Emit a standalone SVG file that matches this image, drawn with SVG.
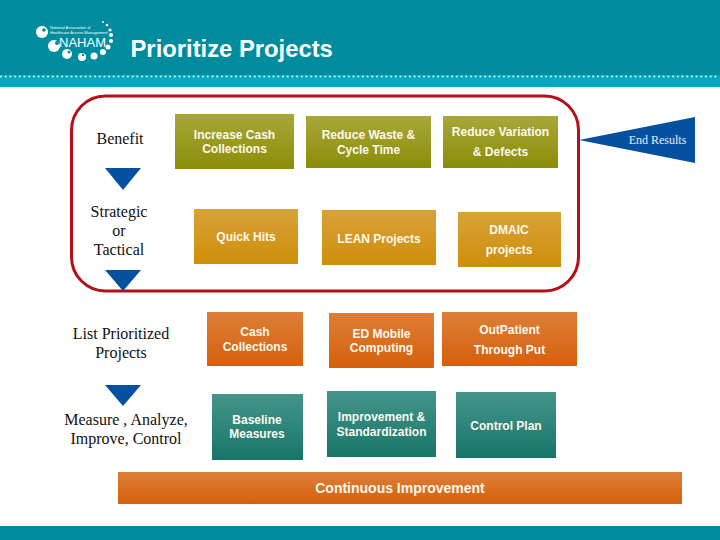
<svg xmlns="http://www.w3.org/2000/svg" width="720" height="540" viewBox="0 0 720 540">
<style>
.b{font:bold 12px "Liberation Sans",Arial,sans-serif;fill:#fdf8ec;text-anchor:middle}
.s{font:16px "Liberation Serif","Times New Roman",serif;fill:#111;text-anchor:middle}
.tri{fill:#05509f}
.logo{fill:#fff;font-family:"Liberation Sans",Arial,sans-serif}
</style>
<defs>
<linearGradient id="g" x1="0" y1="0" x2="0" y2="1"><stop offset="0" stop-color="#a8a83a"/><stop offset="1" stop-color="#8a8d08"/></linearGradient>
<linearGradient id="y" x1="0" y1="0" x2="0" y2="1"><stop offset="0" stop-color="#d8a238"/><stop offset="1" stop-color="#cf8f0c"/></linearGradient>
<linearGradient id="o" x1="0" y1="0" x2="0" y2="1"><stop offset="0" stop-color="#dd7f38"/><stop offset="1" stop-color="#d5600c"/></linearGradient>
<linearGradient id="t" x1="0" y1="0" x2="0" y2="1"><stop offset="0" stop-color="#44958a"/><stop offset="1" stop-color="#187568"/></linearGradient>
</defs>
<rect width="720" height="540" fill="#fff"/>
<g id="header">
<rect width="720" height="75" fill="#008c9f"/>
<rect y="75" width="720" height="12" fill="#00a9bf"/>
<line x1="1" y1="76.500" x2="720" y2="76.500" stroke="#d5f0f3" stroke-width="2.200" stroke-linecap="round" stroke-dasharray="0 4.700"/>
<text x="130.500" y="57" font-family="'Liberation Sans',Arial,sans-serif" font-weight="bold" font-size="23.800" fill="#fff">Prioritize Projects</text>
</g>
<g id="logo">
<circle cx="42" cy="32" r="6" fill="#fff"/><circle cx="44" cy="30" r="1.800" fill="#008c9f"/>
<circle cx="54" cy="46" r="6" fill="#fff"/><circle cx="57" cy="43" r="2" fill="#008c9f"/>
<circle cx="67" cy="54" r="5" fill="#fff"/><circle cx="69" cy="52" r="1.500" fill="#008c9f"/>
<circle cx="82" cy="57" r="4" fill="#fff"/><circle cx="83" cy="55" r="1.200" fill="#008c9f"/>
<circle cx="94" cy="56" r="3.500" fill="#fff"/>
<circle cx="103" cy="52" r="3" fill="#fff"/>
<circle cx="108" cy="47" r="2.500" fill="#fff"/>
<circle cx="111" cy="41" r="2" fill="#fff"/><circle cx="111" cy="35" r="2" fill="#fff"/><circle cx="110" cy="30" r="1.600" fill="#fff"/><circle cx="107" cy="25" r="1.300" fill="#fff"/><circle cx="103" cy="22" r="1" fill="#fff"/>
<text class="logo" x="50" y="29" font-size="4">National Association of</text>
<text class="logo" x="50" y="34" font-size="4">Healthcare Access Management</text>
<text class="logo" x="59" y="47" font-size="13" textLength="47">NAHAM</text>
</g>
<g id="footer"><rect y="526" width="720" height="14" fill="#008c9f"/></g>
<g id="frame"><rect x="71.500" y="96" width="507" height="195" rx="34" fill="none" stroke="#b5101a" stroke-width="3"/></g>
<g id="connectors">
<polygon class="tri" points="105,168 141,168 123,190"/>
<polygon class="tri" points="105,270 141,270 123,291"/>
<polygon class="tri" points="105,385 141,385 123,406"/>
</g>
<g id="end-results"><polygon class="tri" points="579,140 695,117 695,163"/><text x="657.500" y="144" font-family="'Liberation Serif',serif" font-size="12" fill="#e8eef6" text-anchor="middle">End Results</text></g>
<g id="label-benefit"><text class="s" x="120" y="144">Benefit</text></g>
<g id="label-strategic"><text class="s" x="119" y="217">Strategic</text><text class="s" x="119" y="236">or</text><text class="s" x="119" y="255">Tactical</text></g>
<g id="label-list"><text class="s" x="121" y="339">List Prioritized</text><text class="s" x="121" y="358">Projects</text></g>
<g id="label-measure"><text class="s" x="126" y="425">Measure , Analyze,</text><text class="s" x="126" y="444">Improve, Control</text></g>
<g id="n1"><rect x="175" y="114" width="119" height="55" fill="url(#g)"/><text class="b" x="234.500" y="139">Increase Cash</text><text class="b" x="234.500" y="153">Collections</text></g>
<g id="n2"><rect x="306" y="116" width="125" height="52" fill="url(#g)"/><text class="b" x="368.500" y="139">Reduce Waste &amp;</text><text class="b" x="368.500" y="153.500">Cycle Time</text></g>
<g id="n3"><rect x="443" y="116" width="115" height="52" fill="url(#g)"/><text class="b" x="500.500" y="136">Reduce Variation</text><text class="b" x="500.500" y="156">&amp; Defects</text></g>
<g id="n4"><rect x="194" y="209" width="104" height="55" fill="url(#y)"/><text class="b" x="246" y="241">Quick Hits</text></g>
<g id="n5"><rect x="322" y="210" width="114" height="55" fill="url(#y)"/><text class="b" x="379" y="243">LEAN Projects</text></g>
<g id="n6"><rect x="458" y="212" width="103" height="55" fill="url(#y)"/><text class="b" x="509" y="234">DMAIC</text><text class="b" x="509" y="254">projects</text></g>
<g id="n7"><rect x="207" y="312" width="96" height="54" fill="url(#o)"/><text class="b" x="255" y="336">Cash</text><text class="b" x="255" y="351">Collections</text></g>
<g id="n8"><rect x="329" y="313" width="105" height="55" fill="url(#o)"/><text class="b" x="381.500" y="338">ED Mobile</text><text class="b" x="381.500" y="352">Computing</text></g>
<g id="n9"><rect x="442" y="312" width="135" height="54" fill="url(#o)"/><text class="b" x="509.500" y="334">OutPatient</text><text class="b" x="509.500" y="353.500">Through Put</text></g>
<g id="n10"><rect x="212" y="394" width="91" height="66" fill="url(#t)"/><text class="b" x="257" y="424">Baseline</text><text class="b" x="257" y="438">Measures</text></g>
<g id="n11"><rect x="327" y="391" width="109" height="66" fill="url(#t)"/><text class="b" x="381.500" y="421">Improvement &amp;</text><text class="b" x="381.500" y="436">Standardization</text></g>
<g id="n12"><rect x="456" y="392" width="100" height="66" fill="url(#t)"/><text class="b" x="506" y="430">Control Plan</text></g>
<g id="n13"><rect x="118" y="472" width="564" height="32" fill="url(#o)"/><text class="b" x="400" y="493" style="font-size:14px">Continuous Improvement</text></g>
</svg>
